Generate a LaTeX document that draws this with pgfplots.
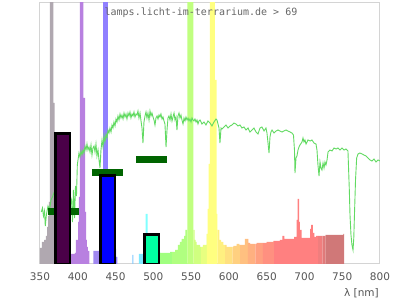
\documentclass[border=0pt]{standalone}
\usepackage{fontspec}
\setmainfont{DejaVu Sans}
\newfontfamily\titlefont{DejaVu Sans Mono}
\usepackage{pgfplots}
\pgfplotsset{compat=1.18}
\definecolor{framegray}{HTML}{D4D4D4}
\definecolor{labelgray}{HTML}{555555}
\definecolor{titlegray}{HTML}{666666}
\definecolor{sunline}{RGB}{98,218,98}
\definecolor{markgreen}{HTML}{006400}
\definecolor{barpurple}{RGB}{74,0,72}
\definecolor{barblue}{HTML}{0000FF}
\definecolor{bargreen}{RGB}{0,255,160}
\definecolor{c01}{HTML}{B0A8B0}
\definecolor{c02}{HTML}{B880E0}
\definecolor{c03}{HTML}{A088F0}
\definecolor{c04}{HTML}{9080FF}
\definecolor{c05}{HTML}{80C8FF}
\definecolor{c06}{HTML}{80E8FF}
\definecolor{c07}{HTML}{80FFFF}
\definecolor{c08}{HTML}{80FFC0}
\definecolor{c09}{HTML}{A0FF80}
\definecolor{c10}{HTML}{B0FF80}
\definecolor{c11}{HTML}{C0FF80}
\definecolor{c12}{HTML}{D0FF80}
\definecolor{c13}{HTML}{E8FF80}
\definecolor{c14}{HTML}{FFFF80}
\definecolor{c15}{HTML}{FFF080}
\definecolor{c16}{HTML}{FFE080}
\definecolor{c17}{HTML}{FFD080}
\definecolor{c18}{HTML}{FFC080}
\definecolor{c19}{HTML}{FFB080}
\definecolor{c20}{HTML}{FFA080}
\definecolor{c21}{HTML}{FF9080}
\definecolor{c22}{HTML}{FF8080}
\definecolor{c23}{HTML}{F07E7E}
\definecolor{c24}{HTML}{E07A7A}
\definecolor{c25}{HTML}{D07878}
\begin{document}
\begin{tikzpicture}
\useasboundingbox (-40pt,-36pt) rectangle (360pt,264pt);
\begin{axis}[
  at={(0,0)}, anchor=south west,
  scale only axis, width=340pt, height=261pt,
  xmin=350, xmax=800, ymin=0, ymax=261,
  xtick={350,400,450,500,550,600,650,700,750,800},
  ytick=\empty,
  major tick length=0pt,
  axis line style={draw=framegray, line width=1pt},
  /pgf/number format/assume math mode=true,
  tick label style={font=\fontsize{10.5}{12}\selectfont, text=labelgray},
  xticklabel style={yshift=-5pt},
  xlabel={λ [nm]},
  xlabel style={at={(rel axis cs:1,0)}, anchor=north east, yshift=-24pt, xshift=-1pt, inner sep=0pt, font=\fontsize{10.5}{12}\selectfont, text=labelgray},
]
% lamp spectrum, coloured by wavelength
\addplot[const plot, fill=c01, draw=none] coordinates {(350,16)(352.6,22)(355.3,24)(357.9,28)(359.3,37)(360.6,48)(361.9,62)(363.2,300)(367.6,161)(369.5,100)(372,100)} \closedcycle;
\addplot[const plot, fill=c02, draw=none] coordinates {(388,10)(396.3,11)(397.6,24)(400.3,42)(401.6,67)(402.9,300)(407.3,166)(409.6,52)(410.9,24)(412.2,17)(413.5,13)(415.3,13)} \closedcycle;
\addplot[const plot, fill=c03, draw=none] coordinates {(420.6,13)(428.5,13)} \closedcycle;
\addplot[const plot, fill=c04, draw=none] coordinates {(428.5,15)(433.4,300)(440,20)(447,15)(450.6,7)(452.3,7)} \closedcycle;
\addplot[const plot, fill=c05, draw=none] coordinates {(472.4,9)(473.7,9)} \closedcycle;
\addplot[const plot, fill=c06, draw=none] coordinates {(481,10)(489.9,10)} \closedcycle;
\addplot[const plot, fill=c07, draw=none] coordinates {(489.9,50)(492.5,50)} \closedcycle;
\addplot[const plot, fill=c08, draw=none] coordinates {(492.5,12)(509,12)} \closedcycle;
\addplot[const plot, fill=c09, draw=none] coordinates {(509,11)(522.1,12)(525,12)} \closedcycle;
\addplot[const plot, fill=c10, draw=none] coordinates {(525,12)(528.7,14)(532.6,19)(535,22)(537.5,25)(540.6,28)(542.5,34)(544.9,34)} \closedcycle;
\addplot[const plot, fill=c11, draw=none] coordinates {(544.9,300)(552.9,34)(553,34)} \closedcycle;
\addplot[const plot, fill=c12, draw=none] coordinates {(553,34)(554.7,24)(556.1,22)(557.4,19)(561.8,17)(563,17)} \closedcycle;
\addplot[const plot, fill=c13, draw=none] coordinates {(563,17)(565.7,19)(570.6,30)(571,30)} \closedcycle;
\addplot[const plot, fill=c14, draw=none] coordinates {(571,30)(572,55)(573.3,100)(575,300)(581.6,184)(583.9,50)(584.6,34)(585,34)} \closedcycle;
\addplot[const plot, fill=c15, draw=none] coordinates {(585,34)(587.3,24)(589.6,22)(592.6,19)(595,19)} \closedcycle;
\addplot[const plot, fill=c16, draw=none] coordinates {(595,19)(597.1,17)(605,17)} \closedcycle;
\addplot[const plot, fill=c17, draw=none] coordinates {(605,17)(605.8,18)(610.3,20)(613.8,19)(615,19)} \closedcycle;
\addplot[const plot, fill=c18, draw=none] coordinates {(615,19)(621.3,25)(625,25)} \closedcycle;
\addplot[const plot, fill=c19, draw=none] coordinates {(625,25)(625.7,21)(628,20)(635,20)} \closedcycle;
\addplot[const plot, fill=c20, draw=none] coordinates {(635,20)(636.8,21)(645,21)} \closedcycle;
\addplot[const plot, fill=c21, draw=none] coordinates {(645,21)(650,22)(658.8,23)(660,23)} \closedcycle;
\addplot[const plot, fill=c22, draw=none] coordinates {(660,23)(667.6,24)(670.7,28)(673.3,25)(686.2,27)(689.7,44)(691.1,65)(692.8,42)(694.1,34)(696.4,26)(707.4,35)(708.7,39)(711,31)(713.1,27)(715.3,28)(718,28)} \closedcycle;
\addplot[const plot, fill=c23, draw=none] coordinates {(718,28)(724,28)} \closedcycle;
\addplot[const plot, fill=c24, draw=none] coordinates {(724,28)(728,29)} \closedcycle;
\addplot[const plot, fill=c25, draw=none] coordinates {(728,29)(751.4,30)(752.4,30)} \closedcycle;
% reference (daylight) spectrum
\addplot[sunline, line width=0.9pt] coordinates {(351.7,52)(353.3,56)(354.6,48)(356.0,53)(357.0,38)(358.6,50)(360.6,58)(362.6,54)(364.6,64)(366.5,67)(369.9,74)(389.7,69)(391.7,64)(393.0,42)(394.3,74)(395.7,46)(397.0,78)(398.3,68)(399.4,99)(400.3,104)(401.6,111)(402.9,107)(404.3,113)(405.6,109)(406.9,114)(408.2,111)(409.6,118)(410.9,114)(412.2,120)(413.5,114)(414.9,117)(416.2,112)(417.5,119)(418.8,109)(420.1,116)(421.5,118)(422.8,112)(424.1,120)(425.4,108)(426.8,114)(428.1,104)(429.4,96)(430.7,114)(432.1,124)(433.4,117)(434.7,128)(436.0,122)(437.4,130)(438.7,126)(440.0,134)(441.3,131)(442.6,136)(444.0,132)(445.3,139)(446.6,136)(447.9,142)(449.3,138)(450.6,145)(451.9,142)(453.2,148)(454.6,144)(455.9,150)(457.2,146)(458.5,149)(459.9,145)(461.2,151)(462.5,147)(463.8,150)(465.1,145)(466.5,151)(467.8,148)(469.1,152)(470.4,146)(471.8,150)(473.1,148)(474.4,152)(475.7,147)(477.1,150)(478.4,149)(479.7,153)(481.0,146)(482.4,151)(483.7,143)(485.0,136)(486.3,121)(487.6,142)(489.0,148)(490.3,152)(491.6,146)(492.9,151)(494.3,144)(495.6,153)(496.9,148)(498.2,151)(499.6,147)(500.9,144)(502.2,139)(503.5,146)(504.9,148)(506.2,145)(507.5,149)(508.8,147)(510.1,150)(511.5,145)(512.8,147)(514.1,143)(515.4,140)(516.8,117)(518.1,134)(519.4,146)(520.7,148)(522.1,144)(523.4,150)(524.7,143)(526.0,147)(527.4,151)(528.7,144)(530.0,147)(531.3,134)(532.6,148)(534.0,151)(535.3,146)(536.6,149)(537.9,144)(539.3,140)(540.6,146)(541.9,143)(543.2,147)(544.6,144)(545.9,146)(547.2,143)(548.5,145)(549.9,142)(551.2,146)(552.5,144)(553.8,143)(555.1,145)(556.5,142)(557.8,144)(559.1,140)(560.4,143)(561.8,144)(564.4,140)(567.1,142)(569.7,139)(572.3,143)(575.0,141)(577.6,138)(580.3,142)(582.9,145)(584.3,144)(585.6,140)(586.9,136)(588.2,121)(589.6,136)(590.9,135)(593.5,137)(596.2,139)(598.8,136)(601.5,138)(604.1,139)(606.7,141)(609.4,140)(612.0,138)(614.7,139)(617.3,136)(620.0,137)(622.6,134)(625.3,136)(627.9,132)(630.6,134)(633.2,136)(635.9,132)(638.5,130)(641.2,136)(643.8,137)(646.5,133)(649.1,136)(650.4,131)(651.8,121)(653.1,111)(654.4,127)(655.7,132)(657.1,134)(659.7,131)(662.4,133)(665.0,134)(667.6,133)(670.3,132)(672.9,133)(675.6,134)(678.2,133)(680.9,132)(683.5,131)(685.5,129)(686.8,114)(687.5,91)(688.8,106)(690.1,108)(691.5,114)(692.8,117)(694.1,119)(696.8,122)(698.1,126)(699.4,122)(700.7,124)(702.1,120)(704.7,124)(707.4,123)(710.0,124)(712.6,121)(715.3,120)(716.6,114)(717.9,99)(719.3,88)(720.6,102)(721.9,96)(723.2,94)(724.6,101)(725.9,96)(727.2,102)(728.5,99)(729.9,104)(731.2,112)(733.8,114)(736.5,113)(739.1,116)(741.8,115)(744.4,116)(747.1,114)(749.7,116)(752.4,114)(755.0,115)(757.6,113)(759.4,74)(760.3,49)(761.6,29)(762.9,19)(764.3,14)(765.3,26)(766.2,49)(767.6,84)(769.1,106)(770.9,110)(773.5,111)(776.2,110)(778.8,109)(781.5,108)(784.1,106)(786.8,104)(789.4,103)(792.1,105)(794.7,102)(797.4,104)(800.0,103)};
% dark green level marks
\addplot[markgreen, line width=6.7pt] coordinates {(360.2,52.6)(401.6,52.6)};
\addplot[markgreen, line width=6.7pt] coordinates {(418.8,91.6)(459.9,91.6)};
\addplot[markgreen, line width=6.7pt] coordinates {(477.1,104.5)(518.1,104.5)};
% bars
\addplot[fill=barpurple, draw=black, line width=2.5pt] coordinates {(370.5,130.5)(389.5,130.5)} \closedcycle;
\addplot[fill=barblue, draw=black, line width=2.5pt] coordinates {(430,88.5)(449.5,88.5)} \closedcycle;
\addplot[fill=bargreen, draw=black, line width=2.5pt] coordinates {(488,29.5)(507.5,29.5)} \closedcycle;
\node[anchor=base, inner sep=0pt, font=\titlefont\fontsize{10}{12}\selectfont, text=titlegray] at (rel axis cs:0.4735,0.954) {lamps.licht-im-terrarium.de > 69};
\end{axis}
\end{tikzpicture}
\end{document}
